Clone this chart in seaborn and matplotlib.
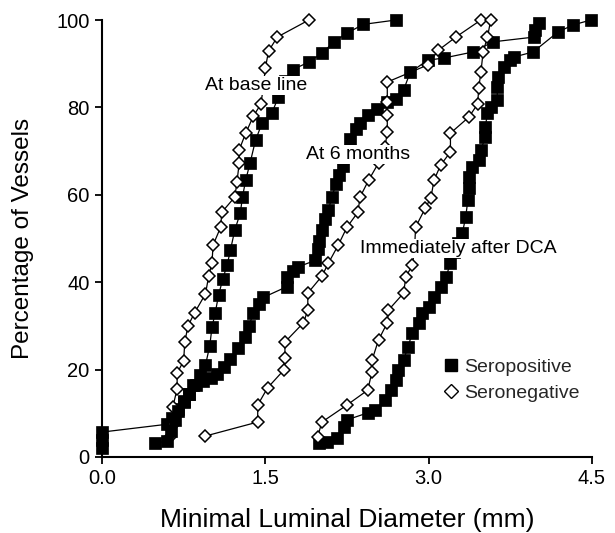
import matplotlib
matplotlib.use("Agg")
import matplotlib.pyplot as plt
from matplotlib.lines import Line2D
import seaborn as sns
import pandas as pd

# ---- data ----
# At base line, seropositive
base_pos_x = [0, 0, 0, 0.60, 0.64, 0.70, 0.75, 0.80, 0.84, 0.90, 0.95, 0.99, 1.01, 1.04, 1.07, 1.11, 1.15, 1.18, 1.22, 1.27, 1.29, 1.32, 1.36, 1.41, 1.47, 1.56, 1.62, 1.68, 1.75, 1.90, 2.02, 2.13, 2.25, 2.40, 2.70]
base_pos_y = [2.0, 4.0, 5.7, 7.5, 9.0, 11.0, 12.8, 14.5, 16.5, 18.8, 21.0, 25.5, 29.7, 33.0, 37.0, 40.8, 44.0, 47.4, 52.0, 55.8, 59.5, 63.4, 67.3, 72.5, 76.4, 78.7, 82.4, 86.0, 88.6, 90.4, 92.4, 95.0, 97.0, 99.0, 100.0]
# At base line, seronegative
base_neg_x = [0.62, 0.66, 0.65, 0.69, 0.69, 0.75, 0.76, 0.79, 0.85, 0.95, 0.98, 1.01, 1.02, 1.09, 1.10, 1.22, 1.24, 1.26, 1.26, 1.32, 1.39, 1.46, 1.48, 1.50, 1.53, 1.61, 1.90]
base_neg_y = [4.6, 7.6, 11.4, 15.6, 19.2, 22.0, 26.3, 30.0, 33.0, 37.3, 41.4, 44.4, 48.5, 52.6, 56.0, 59.5, 63.0, 67.3, 70.3, 74.1, 78.0, 80.8, 84.5, 89.0, 92.9, 96.1, 100.0]
# At 6 months, seropositive
m6_pos_x = [0.49, 0.60, 0.63, 0.67, 0.70, 0.75, 0.80, 0.86, 0.93, 1.00, 1.06, 1.12, 1.18, 1.25, 1.31, 1.35, 1.39, 1.44, 1.48, 1.70, 1.70, 1.75, 1.80, 1.96, 1.98, 1.99, 2.02, 2.05, 2.08, 2.11, 2.15, 2.18, 2.21, 2.25, 2.28, 2.33, 2.37, 2.44, 2.53, 2.62, 2.70, 2.77, 2.83, 2.99, 3.14, 3.41, 3.59, 3.97, 3.98, 4.01]
m6_pos_y = [3.2, 3.6, 6.0, 8.5, 10.5, 12.5, 14.5, 16.5, 17.5, 18.0, 19.0, 20.5, 22.5, 25.0, 27.5, 30.0, 33.0, 35.0, 36.5, 39.0, 41.2, 42.5, 43.5, 45.0, 47.5, 49.5, 52.0, 54.5, 56.5, 59.5, 62.5, 64.5, 66.5, 70.0, 72.8, 75.0, 76.5, 78.3, 79.6, 81.2, 82.0, 84.0, 88.0, 90.8, 91.3, 92.7, 95.0, 96.1, 97.7, 99.4]
# At 6 months, seronegative
m6_neg_x = [0.95, 1.43, 1.43, 1.52, 1.67, 1.68, 1.68, 1.85, 1.89, 1.89, 2.02, 2.08, 2.17, 2.25, 2.35, 2.37, 2.45, 2.54, 2.60, 2.62, 2.62, 2.62, 2.62, 2.99, 3.09, 3.25, 3.48]
m6_neg_y = [4.8, 8.0, 11.9, 15.8, 19.9, 22.7, 26.3, 30.7, 33.6, 37.5, 41.4, 44.4, 48.5, 52.6, 56.0, 59.5, 63.4, 67.3, 71.0, 74.4, 78.3, 81.2, 85.8, 89.7, 93.1, 96.1, 100.0]
# Immediately after DCA, seropositive
dca_pos_x = [1.99, 2.07, 2.16, 2.22, 2.25, 2.44, 2.51, 2.60, 2.65, 2.70, 2.72, 2.77, 2.81, 2.85, 2.91, 2.94, 3.00, 3.05, 3.11, 3.16, 3.20, 3.23, 3.27, 3.31, 3.34, 3.36, 3.37, 3.37, 3.40, 3.46, 3.48, 3.52, 3.52, 3.54, 3.57, 3.63, 3.63, 3.64, 3.69, 3.75, 3.78, 3.96, 4.19, 4.33, 4.49]
dca_pos_y = [3.2, 3.4, 4.3, 6.9, 8.5, 10.1, 10.8, 13.0, 15.3, 17.6, 19.9, 22.2, 25.2, 28.4, 30.7, 33.0, 34.3, 36.6, 38.9, 41.2, 44.4, 47.0, 49.0, 51.3, 54.9, 58.8, 61.5, 64.1, 66.4, 68.0, 70.3, 73.2, 75.5, 78.7, 80.1, 81.7, 84.7, 87.0, 89.2, 90.8, 91.5, 92.7, 97.3, 98.9, 100.0]
# Immediately after DCA, seronegative
dca_neg_x = [1.98, 2.02, 2.25, 2.44, 2.48, 2.48, 2.54, 2.62, 2.63, 2.77, 2.79, 2.85, 2.87, 2.88, 2.97, 3.02, 3.05, 3.11, 3.20, 3.20, 3.37, 3.45, 3.46, 3.48, 3.50, 3.54, 3.57]
dca_neg_y = [4.6, 8.0, 11.9, 15.3, 19.5, 22.2, 26.8, 30.7, 33.6, 37.5, 41.2, 43.9, 47.4, 52.6, 57.0, 59.3, 63.4, 66.8, 69.8, 74.1, 77.8, 80.8, 84.5, 88.1, 92.7, 96.1, 100.0]

x_ticks = [0.0, 1.5, 3.0, 4.5]
y_ticks = [0, 20, 40, 60, 80, 100]
legend_labels = ["Seropositive", "Seronegative"]
annotations = [("At base line", 0.95, 85.0), ("At 6 months", 1.87, 69.3), ("Immediately after DCA", 2.37, 47.7)]

# ---- plotting ----
sns.set_theme(style="ticks")
plt.rcParams["font.family"] = ["Liberation Sans", "DejaVu Sans"]

fig = plt.figure(figsize=(6.15, 5.33), dpi=100)
ax = fig.add_axes([102 / 615, 1 - 457 / 533, 490 / 615, 437 / 533])

pos_style = dict(marker="s", markersize=8.5, markerfacecolor="black", markeredgecolor="black",
                 markeredgewidth=0.5)
neg_style = dict(marker="D", markersize=6.4, markerfacecolor="white", markeredgecolor="black",
                 markeredgewidth=1.1)

series = [
    (base_pos_x, base_pos_y, pos_style),
    (base_neg_x, base_neg_y, neg_style),
    (m6_pos_x, m6_pos_y, pos_style),
    (m6_neg_x, m6_neg_y, neg_style),
    (dca_pos_x, dca_pos_y, pos_style),
    (dca_neg_x, dca_neg_y, neg_style),
]
for xs, ys, st in series:
    df = pd.DataFrame({"x": xs, "y": ys})
    sns.lineplot(data=df, x="x", y="y", sort=False, estimator=None, ax=ax,
                 color="black", linewidth=0.9, clip_on=False, zorder=3, **st)

ax.set_xlim(0, 4.5)
ax.set_ylim(0, 100)
ax.set_xticks(x_ticks)
ax.set_xticklabels([f"{v:.1f}" for v in x_ticks])
ax.set_yticks(y_ticks)
ax.set_yticklabels([str(v) for v in y_ticks])
ax.tick_params(axis="both", direction="out", length=5, width=1.3, labelsize=14.5,
               colors="black", pad=4)
for s in ["left", "bottom"]:
    ax.spines[s].set_linewidth(1.5)
    ax.spines[s].set_color("black")
sns.despine(ax=ax)

ax.set_xlabel("Minimal Luminal Diameter (mm)", fontsize=19, labelpad=14, color="black")
ax.set_ylabel("Percentage of Vessels", fontsize=17.5, labelpad=16, color="black")

for txt, tx, ty in annotations:
    ax.text(tx, ty, txt, fontsize=14, va="center", ha="left", color="black", zorder=5,
            bbox=dict(boxstyle="square,pad=0.05", facecolor="white", edgecolor="none"))

handles = [
    Line2D([], [], linestyle="none", marker="s", markersize=8.5, markerfacecolor="black",
           markeredgecolor="black"),
    Line2D([], [], linestyle="none", marker="D", markersize=7.5, markerfacecolor="white",
           markeredgecolor="black", markeredgewidth=1.0),
]
ax.legend(handles, legend_labels, loc="upper left", bbox_to_anchor=(0.70, 0.225),
          frameon=False, fontsize=14, handlelength=0.6, handletextpad=0.4,
          labelspacing=0.4, borderaxespad=0, borderpad=0)

fig.savefig("out.png", dpi=100)
